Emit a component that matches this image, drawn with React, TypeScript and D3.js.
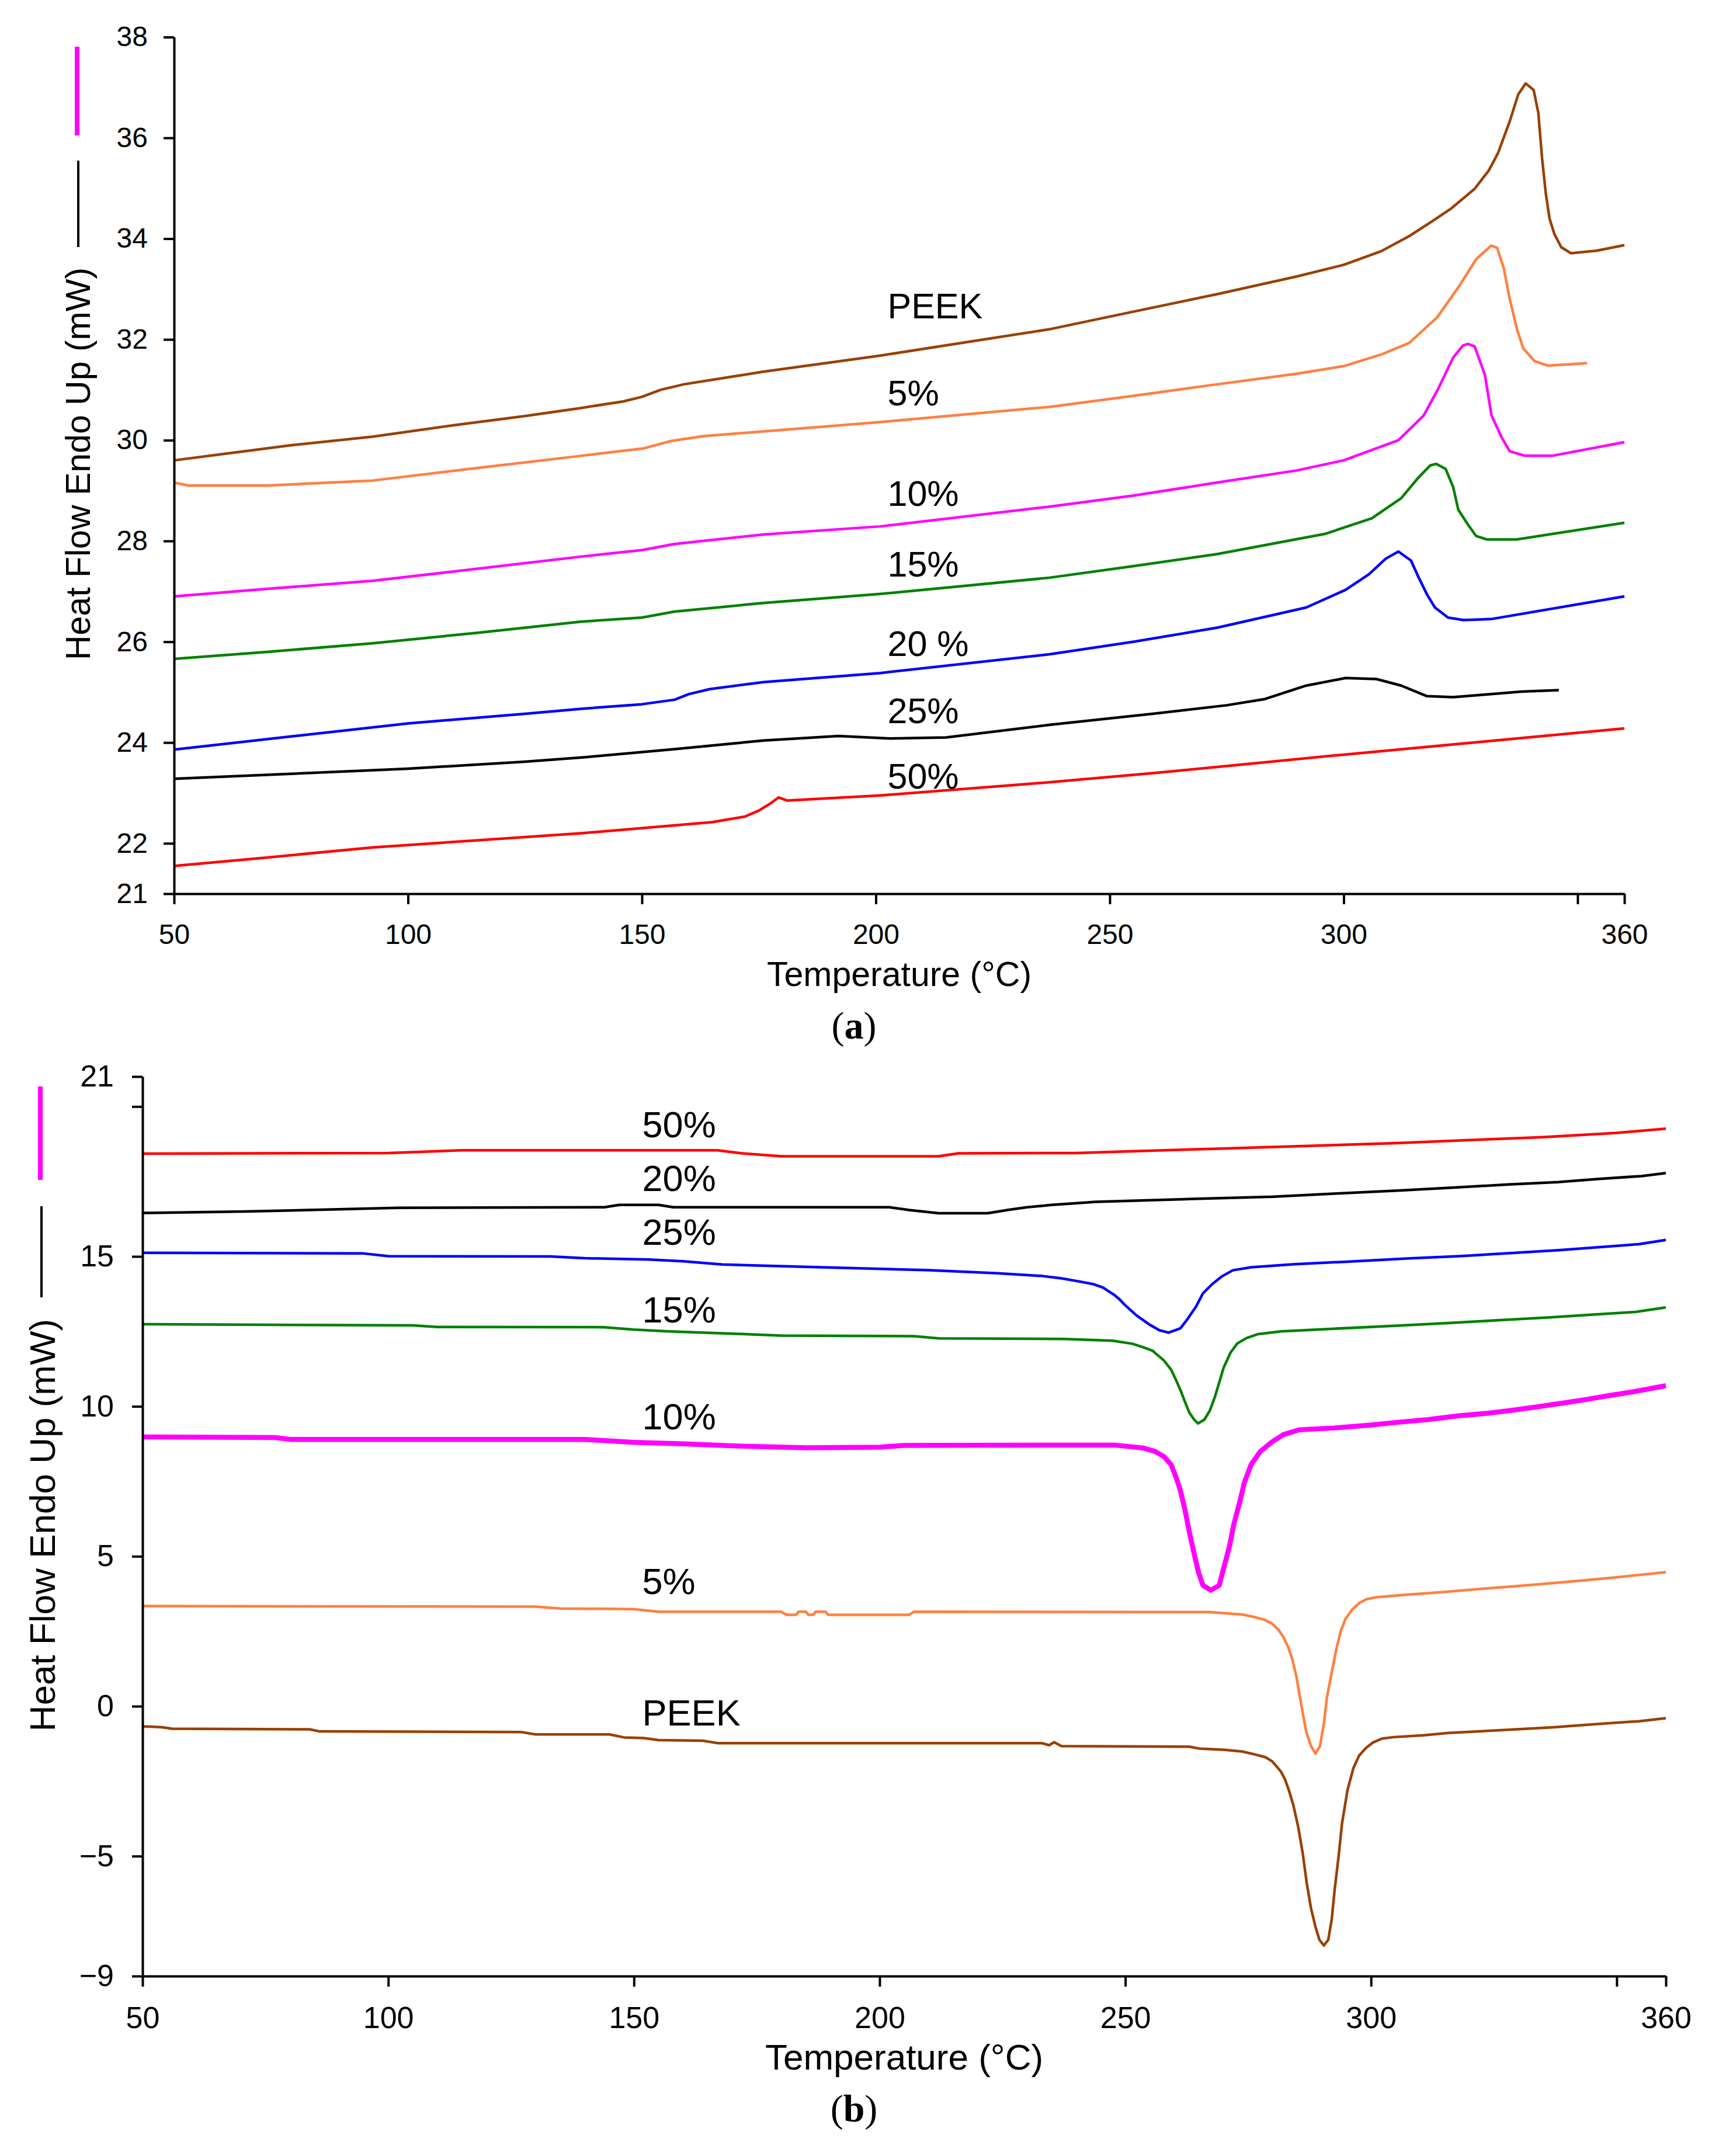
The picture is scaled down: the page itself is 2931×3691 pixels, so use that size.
import { useEffect, useRef } from 'react'
import * as d3 from 'd3'

type Pt = [number, number]

// (a) heating scans, heat flow (mW) against temperature (°C)
const peekA: Pt[] = [[50, 29.6], [60, 29.72], [75, 29.9], [92.5, 30.07], [110, 30.3], [125, 30.48], [137, 30.64], [146, 30.77], [150, 30.86], [154, 31.0], [159, 31.11], [176, 31.36], [201, 31.68], [237, 32.2], [255, 32.55], [273, 32.9], [290, 33.25], [300, 33.48], [308, 33.75], [314, 34.05], [319, 34.35], [323, 34.6], [328, 34.99], [331, 35.35], [333, 35.7], [335.5, 36.33], [337.3, 36.86], [338.9, 37.08], [340.6, 36.95], [341.6, 36.5], [342.4, 35.6], [343.2, 34.9], [344, 34.4], [345, 34.1], [346.5, 33.83], [348.6, 33.71], [354, 33.76], [360, 33.87]]
const pct5A: Pt[] = [[50, 29.16], [53, 29.1], [70, 29.1], [92.5, 29.2], [115, 29.45], [137, 29.69], [150.5, 29.84], [156, 29.98], [163, 30.08], [182, 30.22], [201, 30.36], [237, 30.66], [255, 30.88], [273, 31.11], [290, 31.32], [300, 31.47], [308, 31.7], [314, 31.93], [320, 32.44], [324.7, 33.06], [328.3, 33.59], [331.5, 33.86], [332.8, 33.82], [334.2, 33.42], [335.5, 32.8], [337.1, 32.18], [338.4, 31.82], [340.8, 31.57], [343.6, 31.48], [352, 31.53]]
const pct10A: Pt[] = [[50, 26.9], [70, 27.05], [92.5, 27.21], [115, 27.45], [137, 27.69], [150, 27.82], [157, 27.94], [176, 28.13], [201, 28.29], [237, 28.68], [255, 28.9], [273, 29.16], [290, 29.4], [300, 29.6], [311.7, 30.0], [317.1, 30.49], [320.2, 31.02], [323.4, 31.64], [325.5, 31.88], [326.6, 31.91], [328, 31.86], [330.2, 31.29], [331.6, 30.49], [333.8, 30.05], [335.5, 29.78], [338.8, 29.69], [344.5, 29.69], [360, 29.96]]
const pct15A: Pt[] = [[50, 25.66], [70, 25.8], [92.5, 25.97], [115, 26.18], [137, 26.4], [150, 26.48], [157, 26.6], [176, 26.77], [201, 26.95], [237, 27.27], [255, 27.5], [273, 27.74], [296, 28.14], [306, 28.45], [312.3, 28.85], [315.9, 29.25], [318.5, 29.5], [319.8, 29.53], [321.8, 29.43], [323.4, 29.07], [324.5, 28.62], [326.6, 28.32], [328.3, 28.1], [330.6, 28.03], [337, 28.03], [360, 28.36]]
const pct20A: Pt[] = [[50, 23.86], [75, 24.12], [100, 24.38], [125, 24.57], [137, 24.67], [150, 24.76], [157, 24.85], [160, 24.96], [164.5, 25.06], [176, 25.2], [201, 25.38], [237, 25.75], [255, 26.0], [273, 26.28], [292, 26.68], [300.4, 27.03], [305.4, 27.34], [309, 27.65], [311.7, 27.79], [314.4, 27.61], [315.9, 27.3], [317.8, 26.94], [319.5, 26.68], [322.3, 26.48], [325.6, 26.43], [331.5, 26.45], [360, 26.9]]
const pct25A: Pt[] = [[50, 23.28], [75, 23.38], [100, 23.48], [125, 23.62], [138, 23.71], [157, 23.87], [176, 24.04], [192, 24.13], [203, 24.08], [215, 24.1], [237, 24.35], [260, 24.58], [275, 24.74], [283, 24.86], [292, 25.13], [300.4, 25.28], [307, 25.26], [312.3, 25.13], [317.8, 24.92], [323.4, 24.9], [330, 24.95], [338, 25.01], [346, 25.04]]
const pct50A: Pt[] = [[50, 21.55], [70, 21.72], [92.5, 21.92], [115, 22.06], [137, 22.2], [150, 22.3], [165, 22.42], [172, 22.53], [175, 22.65], [177.3, 22.78], [179.2, 22.91], [181, 22.85], [201, 22.95], [237, 23.21], [260, 23.4], [280, 23.58], [300, 23.76], [330, 24.02], [360, 24.28]]

// (b) cooling scans
const pct50B: Pt[] = [[50, 18.43], [100, 18.45], [115, 18.54], [167, 18.54], [172, 18.44], [180, 18.34], [212, 18.34], [216, 18.44], [240, 18.45], [250, 18.5], [270, 18.6], [290, 18.7], [305, 18.78], [320, 18.88], [335, 18.98], [350, 19.12], [360, 19.26]]
const pct20B: Pt[] = [[50, 16.45], [71, 16.5], [102, 16.62], [144, 16.64], [147, 16.72], [155, 16.72], [158, 16.64], [202, 16.64], [206, 16.55], [212, 16.44], [222, 16.44], [226, 16.55], [230, 16.64], [235, 16.72], [244, 16.82], [262, 16.91], [280, 16.99], [293, 17.1], [306, 17.2], [317, 17.3], [328, 17.4], [338, 17.48], [346, 17.58], [355, 17.68], [360, 17.78]]
const pct25B: Pt[] = [[50, 15.12], [95, 15.1], [100, 15.01], [133, 15.0], [140, 14.94], [153, 14.9], [160, 14.84], [168, 14.73], [188, 14.64], [210, 14.54], [224, 14.44], [233, 14.35], [237, 14.27], [240.5, 14.17], [243.4, 14.08], [245.5, 13.96], [246.6, 13.84], [247.8, 13.71], [248.7, 13.59], [249.8, 13.4], [251, 13.22], [252.3, 13.03], [255, 12.72], [256.9, 12.54], [258.8, 12.46], [261.2, 12.6], [262.6, 12.9], [264.4, 13.33], [265.8, 13.77], [267.7, 14.08], [269.6, 14.33], [271.9, 14.54], [275.6, 14.64], [284.5, 14.74], [295.7, 14.83], [307.3, 14.93], [318, 15.01], [328.4, 15.11], [338.2, 15.21], [346.6, 15.31], [354.5, 15.41], [360, 15.55]]
const pct15B: Pt[] = [[50, 12.74], [105, 12.7], [110, 12.65], [144, 12.64], [150, 12.56], [157, 12.5], [171, 12.42], [180, 12.36], [207, 12.34], [212, 12.27], [237.5, 12.25], [247.4, 12.19], [251.4, 12.09], [253.7, 11.97], [255.6, 11.85], [256.5, 11.72], [257.8, 11.54], [259.3, 11.23], [260.2, 10.92], [261.2, 10.55], [262.1, 10.17], [263, 9.8], [264, 9.56], [264.8, 9.43], [266.1, 9.56], [267.2, 9.86], [268.2, 10.3], [269.1, 10.79], [270, 11.29], [271.4, 11.79], [272.8, 12.1], [274.7, 12.28], [277, 12.41], [281.7, 12.5], [292.5, 12.59], [304.1, 12.68], [315.7, 12.78], [326.8, 12.88], [336.5, 12.97], [345.2, 13.06], [353.8, 13.15], [360, 13.3]]
const pct10B: Pt[] = [[50, 8.98], [77, 8.96], [80, 8.9], [140, 8.9], [142, 8.88], [150, 8.8], [160, 8.75], [171, 8.68], [185, 8.62], [200, 8.64], [205, 8.7], [247.8, 8.71], [253.7, 8.61], [256, 8.5], [257.9, 8.32], [259.3, 8.06], [260.2, 7.69], [261.2, 7.2], [262.1, 6.58], [263, 5.83], [264, 5.09], [264.9, 4.46], [265.8, 4.03], [267.4, 3.87], [269.1, 4.03], [270, 4.59], [271.2, 5.34], [272.1, 6.08], [273.3, 6.82], [274.2, 7.44], [275.6, 8.06], [277.5, 8.5], [279.8, 8.81], [282.2, 9.06], [285.4, 9.22], [292.5, 9.28], [299.4, 9.37], [305.5, 9.47], [311.6, 9.56], [317.6, 9.68], [323.7, 9.77], [328.8, 9.87], [334, 9.99], [339, 10.11], [343.8, 10.23], [348.4, 10.36], [353.1, 10.48], [360, 10.69]]
const pct5B: Pt[] = [[50, 3.34], [130, 3.32], [135, 3.26], [150, 3.24], [155, 3.15], [180, 3.15], [181, 3.05], [183, 3.05], [183.5, 3.15], [185, 3.15], [185.5, 3.05], [186.5, 3.05], [187, 3.15], [189, 3.15], [189.5, 3.05], [206, 3.05], [207, 3.15], [267, 3.14], [273.8, 3.06], [276.1, 2.98], [278.4, 2.88], [279.9, 2.75], [281.2, 2.54], [282.2, 2.3], [283.1, 1.99], [284, 1.56], [284.8, 1.0], [285.7, 0.14], [286.8, -0.84], [287.8, -1.33], [288.7, -1.58], [289.6, -1.33], [290.4, -0.59], [291, 0.27], [292, 1.13], [292.9, 1.87], [293.8, 2.48], [294.8, 2.91], [296.1, 3.21], [297.6, 3.44], [299.1, 3.57], [301.3, 3.64], [307.3, 3.72], [314.8, 3.81], [322.1, 3.91], [329.1, 4.0], [335.9, 4.09], [342, 4.18], [350, 4.3], [360, 4.47]]
const peekB: Pt[] = [[50, -0.67], [54, -0.7], [56, -0.75], [84, -0.77], [86, -0.84], [127, -0.86], [130, -0.94], [145, -0.94], [148, -1.04], [152, -1.06], [155, -1.13], [164, -1.15], [167, -1.23], [233, -1.23], [234.5, -1.3], [235.5, -1.2], [237, -1.33], [263, -1.35], [265, -1.41], [270, -1.45], [273.8, -1.51], [276.4, -1.61], [278.5, -1.7], [279.9, -1.84], [280.8, -2.01], [281.7, -2.19], [282.5, -2.44], [283.3, -2.81], [284.2, -3.3], [285.2, -4.04], [286.1, -4.9], [286.9, -5.88], [287.8, -6.75], [288.7, -7.36], [289.5, -7.79], [290.4, -7.98], [291.3, -7.79], [292, -7.11], [292.6, -6.12], [293.4, -5.01], [294.1, -3.91], [295.2, -2.81], [296.4, -2.07], [297.6, -1.64], [299, -1.39], [300.4, -1.21], [302.2, -1.08], [304.6, -1.03], [310.7, -0.97], [315.7, -0.89], [326.4, -0.8], [337.2, -0.7], [345.6, -0.6], [354.5, -0.5], [360, -0.4]]

// axis ticks
const tempTicks = [50, 100, 150, 200, 250, 300, 350, 360]
const tempLabels = ['50', '100', '150', '200', '250', '300', '', '360']
const heatTicksA = [21, 22, 24, 26, 28, 30, 32, 34, 36, 38]
const heatLabelsA = ['21', '22', '24', '26', '28', '30', '32', '34', '36', '38']
const heatTicksB = [-9, -5, 0, 5, 10, 15, 20, 21]
const heatLabelsB = ['\u22129', '\u22125', '0', '5', '10', '15', '', '21']

// curve names and where their labels sit (heat flow at label baseline)
const namesA = ['PEEK', '5%', '10%', '15%', '20 %', '25%', '50%']
const labelHeatA = [32.42, 30.69, 28.7, 27.3, 25.72, 24.38, 23.09]
const namesB = ['50%', '20%', '25%', '15%', '10%', '5%', 'PEEK']
const labelHeatB = [18.98, 17.19, 15.38, 12.79, 9.23, 3.74, -0.65]

const BROWN = '#994000'
const ORANGE = '#FF8040'
const SANS = '"Liberation Sans", Arial, sans-serif'

interface Curve { data: Pt[]; color: string; width: number }

interface PanelProps {
  left: number
  right: number
  top: number
  bottom: number
  yDomain: [number, number]
  yTicks: number[]
  yLabels: string[]
  curves: Curve[]
  names: string[]
  labelHeat: number[]
  labelTemp: number
  tickFont: number
  titleFont: number
  nameFont: number
  yTitleX: number
  yTitleY: number
  keyX: number
  keyBlack: [number, number]
  keyMagenta: [number, number]
  xTitleY: number
  yPad: number
  caption: string
  captionY: number
}

function DscPanel(p: PanelProps) {
  const ref = useRef<SVGGElement>(null)

  useEffect(() => {
    if (!ref.current) return
    const g = d3.select(ref.current)
    g.selectAll('*').remove()

    const x = d3.scaleLinear().domain([50, 360]).range([p.left, p.right])
    const y = d3.scaleLinear().domain(p.yDomain).range([p.bottom, p.top])
    const line = d3.line<Pt>().x((d) => x(d[0])).y((d) => y(d[1]))

    p.curves.forEach((c) => {
      g.append('path')
        .attr('d', line(c.data))
        .attr('fill', 'none')
        .attr('stroke', c.color)
        .attr('stroke-width', c.width)
        .attr('stroke-linejoin', 'round')
    })

    const xAxis = g.append('g')
      .attr('transform', `translate(0,${p.bottom})`)
      .call(
        d3.axisBottom(x)
          .tickValues(tempTicks)
          .tickSize(18)
          .tickSizeOuter(0)
          .tickPadding(34)
          .tickFormat((_d, i) => tempLabels[i])
      )
    const yAxis = g.append('g')
      .attr('transform', `translate(${p.left},0)`)
      .call(
        d3.axisLeft(y)
          .tickValues(p.yTicks)
          .tickSize(18)
          .tickSizeOuter(0)
          .tickPadding(p.yPad)
          .tickFormat((_d, i) => p.yLabels[i])
      )
    ;[xAxis, yAxis].forEach((a) => {
      a.attr('font-family', SANS).attr('font-size', p.tickFont)
      a.selectAll('path, line').attr('stroke', '#000').attr('stroke-width', 4)
      a.selectAll('text').attr('fill', '#000')
    })

    p.names.forEach((n, i) => {
      g.append('text')
        .attr('x', x(p.labelTemp))
        .attr('y', y(p.labelHeat[i]))
        .attr('font-family', SANS)
        .attr('font-size', p.nameFont)
        .text(n)
    })

    g.append('text')
      .attr('x', (p.left + p.right) / 2)
      .attr('y', p.xTitleY)
      .attr('text-anchor', 'middle')
      .attr('font-family', SANS)
      .attr('font-size', p.titleFont)
      .text('Temperature (°C)')

    g.append('text')
      .attr('transform', `translate(${p.yTitleX},${p.yTitleY}) rotate(-90)`)
      .attr('text-anchor', 'middle')
      .attr('font-family', SANS)
      .attr('font-size', p.titleFont)
      .text('Heat Flow Endo Up (mW)')

    // small line key beside the axis title
    g.append('line')
      .attr('x1', p.keyX).attr('x2', p.keyX)
      .attr('y1', p.keyBlack[0]).attr('y2', p.keyBlack[1])
      .attr('stroke', '#000').attr('stroke-width', 4)
    g.append('line')
      .attr('x1', p.keyX - 2).attr('x2', p.keyX - 2)
      .attr('y1', p.keyMagenta[0]).attr('y2', p.keyMagenta[1])
      .attr('stroke', '#FF00FF').attr('stroke-width', 8)

    const cap = g.append('text')
      .attr('x', 1462)
      .attr('y', p.captionY)
      .attr('text-anchor', 'middle')
      .attr('font-family', '"Liberation Serif", "Times New Roman", serif')
      .attr('font-size', 66)
    cap.append('tspan').text('(')
    cap.append('tspan').attr('font-weight', 'bold').text(p.caption)
    cap.append('tspan').text(')')
  }, [p])

  return <g ref={ref} />
}

export default function App() {
  const curvesA: Curve[] = [
    { data: peekA, color: BROWN, width: 4.5 },
    { data: pct5A, color: ORANGE, width: 4.5 },
    { data: pct10A, color: '#FF00FF', width: 4.5 },
    { data: pct15A, color: '#008000', width: 4.5 },
    { data: pct20A, color: '#0000FF', width: 4.5 },
    { data: pct25A, color: '#000000', width: 4.5 },
    { data: pct50A, color: '#FF0000', width: 4.5 },
  ]
  const curvesB: Curve[] = [
    { data: pct50B, color: '#FF0000', width: 4.5 },
    { data: pct20B, color: '#000000', width: 4.5 },
    { data: pct25B, color: '#0000FF', width: 4.5 },
    { data: pct15B, color: '#008000', width: 4.5 },
    { data: pct10B, color: '#FF00FF', width: 8.5 },
    { data: pct5B, color: ORANGE, width: 4.5 },
    { data: peekB, color: BROWN, width: 4.5 },
  ]

  return (
    <svg
      width={2931}
      height={3691}
      style={{ position: 'absolute', left: 0, top: 0, background: '#fff' }}
    >
      <rect width={2931} height={3691} fill="#fff" />
      <DscPanel
        left={298} right={2781} top={63.5} bottom={1530}
        yDomain={[21, 38]} yTicks={heatTicksA} yLabels={heatLabelsA}
        curves={curvesA} names={namesA} labelHeat={labelHeatA} labelTemp={202.5}
        tickFont={48} titleFont={59} nameFont={61}
        yTitleX={154} yTitleY={794} keyX={134} keyBlack={[275, 423]} keyMagenta={[80, 232]}
        xTitleY={1688} yPad={27} caption="a" captionY={1778}
      />
      <DscPanel
        left={244} right={2852} top={1843} bottom={3383}
        yDomain={[-9, 21]} yTicks={heatTicksB} yLabels={heatLabelsB}
        curves={curvesB} names={namesB} labelHeat={labelHeatB} labelTemp={151.7}
        tickFont={52} titleFont={62} nameFont={63}
        yTitleX={94} yTitleY={2611} keyX={71} keyBlack={[2065, 2221]} keyMagenta={[1860, 2020]}
        xTitleY={3543} yPad={31} caption="b" captionY={3632}
      />
    </svg>
  )
}
